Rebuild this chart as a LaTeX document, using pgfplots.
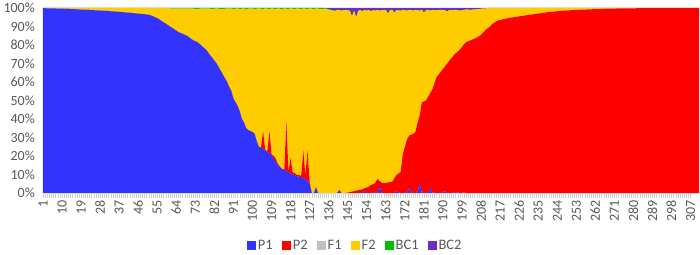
\documentclass[border=0pt]{standalone}
\usepackage{pgfplots}
\pgfplotsset{compat=1.18}
\usepackage{pgfplotstable}
\usepackage{fontspec}
\setmainfont{Carlito}
\definecolor{cP1}{HTML}{3333FF}
\definecolor{cP2}{HTML}{FF0000}
\definecolor{cF1}{HTML}{C0C0C0}
\definecolor{cF2}{HTML}{FFCC00}
\definecolor{cBC1}{HTML}{00C000}
\definecolor{cBC2}{HTML}{6A2FC0}
\definecolor{txt}{HTML}{595959}
\pgfplotstableread{
x P1 P2 F1 F2 BC1 BC2
1 99.9 0 0 0.1 0 0
5 99.8 0 0 0.2 0 0
10 99.6 0 0 0.4 0 0
15 99.4 0 0 0.6 0 0
20 99.1 0 0 0.9 0 0
25 98.8 0 0 1.2 0 0
30 98.5 0 0 1.5 0 0
36 98.0 0 0 2.0 0 0
40 97.6 0 0 2.4 0 0
46 97.0 0 0 3.0 0 0
50 96.5 0 0 3.5 0 0
52 96.0 0 0 4.0 0 0
55 94.5 0 0 5.5 0 0
57 93.0 0 0 7.0 0 0
59 91.5 0 0 8.5 0 0
61 90.0 0 0 9.7 0.3 0
63 88.5 0 0 11.2 0.3 0
65 87.0 0 0 12.6 0.4 0
67 86.0 0 0 13.7 0.3 0
69 85.0 0 0 14.6 0.4 0
70 84.2 0 0 15.5 0.3 0
72 82.5 0 0 17.1 0.4 0
74 81.5 0 0 18.0 0.5 0
76 79.5 0 0 20.2 0.3 0
78 77.5 0 0 22.1 0.4 0
79 76.0 0 0 23.7 0.3 0
81 73.0 0 0 26.5 0.5 0
83 70.0 0 0 29.7 0.3 0
84 68.0 0 0 31.6 0.4 0
86 64.0 0 0 35.5 0.5 0
88 60.0 0 0 39.7 0.3 0
89 57.0 0.5 0 42.1 0.4 0
90 55.0 0.3 0 44.4 0.3 0
91 51.0 0 0 48.5 0.5 0
92 49.0 0 0 50.6 0.4 0
93 47.0 0 0 52.7 0.3 0
94 44.0 0 0 55.5 0.5 0
95 40.0 0 0 59.6 0.4 0
96 38.0 0 0 61.7 0.3 0
97 35.0 0 0 64.5 0.5 0
98 34.0 0 0 65.6 0.4 0
100 33.0 0 0 66.7 0.3 0
101 32.0 0 0 67.5 0.5 0
102 28.0 0 0 71.6 0.4 0
103 25.0 0 0 74.7 0.3 0
104 24.5 0 0 75.1 0.4 0
105 24.0 9.5 0 66.0 0.5 0
106 23.0 0.5 0 76.2 0.3 0
107 22.2 0.3 0 77.1 0.4 0
108 21.5 12.0 0 66.0 0.5 0
109 20.5 0.5 0 78.7 0.3 0
110 18.5 1.5 0 79.6 0.4 0
111 17.0 1.5 0 81.0 0.5 0
112 15.0 0.8 0 83.9 0.3 0
113 14.0 0.3 0 85.3 0.4 0
114 13.0 0 0 86.5 0.5 0
115 12.5 0.3 0 86.9 0.3 0
116 12.0 26.5 0 61.1 0.4 0
117 11.0 0.5 0 88.0 0.5 0
118 10.5 8.5 0 80.7 0.3 0
119 10.2 1.0 0 88.4 0.4 0
120 9.7 1.0 0 88.8 0.5 0
121 9.0 0.8 0 89.9 0.3 0
122 8.8 0.8 0 90.0 0.4 0
123 8.6 0.8 0 90.1 0.5 0
124 8.0 15.0 0 76.7 0.3 0
125 7.5 2.0 0 90.1 0.4 0
126 6.5 16.5 0 76.5 0.5 0
127 5.0 1.0 0 93.7 0.3 0
128 0 0 0 99.6 0.4 0
129 0 0 0 99.5 0.5 0
130 3.0 0 0 96.7 0.3 0
131 0 0 0 99.6 0.4 0
133 0 0 0 99.5 0.5 0
135 0 0 0 99.4 0.3 0.3
137 0 0 0 98.8 0.2 1.0
139 0 0 0 98.3 0.2 1.5
140 0 0 0 99.0 0 1.0
141 1.5 0 0 97.3 0 1.2
142 0 0 0 98.5 0 1.5
144 0 0 0 99.0 0 1.0
146 0 0.5 0 98.0 0 1.5
147 0 0.7 0 94.8 0 4.5
148 0 1.0 0 97.5 0 1.5
149 0 1.3 0 93.7 0 5.0
150 0 1.6 0 96.9 0 1.5
151 0 1.8 0 97.0 0 1.2
152 0 2.0 0 96.2 0 1.8
153 1.5 1.2 0 96.3 0 1.0
154 0 3.0 0 95.5 0 1.5
155 0 3.5 0 95.5 0 1.0
156 0 4.3 0 93.9 0 1.8
157 0.5 4.3 0 94.0 0 1.2
158 0 5.5 0 93.0 0 1.5
159 0 7.5 0 91.5 0 1.0
160 4.0 2.5 0 92.0 0 1.5
161 0 5.4 0 93.4 0 1.2
163 0 5.5 0 93.5 0 1.0
164 0 5.7 0 91.3 0 3.0
165 0 6.0 0 92.8 0 1.2
166 0 6.0 0 93.0 0 1.0
167 0 8.0 0 89.5 0 2.5
168 1.0 8.7 0 89.1 0 1.2
170 0 11.4 0 87.1 0 1.5
171 0 21.0 0 78.0 0 1.0
172 0 25.0 0 73.8 0 1.2
173 0.5 28.5 0 69.5 0 1.5
174 2.5 28.5 0 68.0 0 1.0
175 0.3 31.2 0 67.3 0 1.2
176 0 32.0 0 66.5 0 1.5
177 0 33.0 0 66.0 0 1.0
178 0.5 37.5 0 60.8 0 1.2
179 5.0 37.0 0 56.5 0 1.5
180 0.3 48.7 0 50.0 0 1.0
181 0 49.5 0 48.0 0 2.5
182 0 50.0 0 48.8 0 1.2
183 0.5 51.5 0 47.0 0 1.0
184 2.5 51.5 0 44.5 0 1.5
185 0.3 55.7 0 43.0 0 1.0
187 0 62.7 0 36.1 0 1.2
189 0 65.5 0 33.5 0 1.0
191 1.0 67.5 0 30.3 0 1.2
192 0 70.0 0 28.0 0 2.0
193 0 71.5 0 27.5 0 1.0
194 0 73.0 0 25.8 0 1.2
196 0.5 75.0 0 23.5 0 1.0
198 0 77.5 0 21.0 0 1.5
200 0.3 80.2 0 18.5 0 1.0
201 0 81.6 0 17.6 0 0.8
203 0 82.5 0 16.5 0 1.0
206 0 84.0 0 15.3 0 0.7
208 0 85.5 0 14.1 0 0.4
210 0 88.0 0 11.7 0 0.3
212 0 89.8 0 10.2 0 0
214 0 92.0 0 8.0 0 0
216 0 93.2 0 6.8 0 0
218 0 93.8 0 6.2 0 0
221 0 94.6 0 5.4 0 0
225 0 95.3 0 4.7 0 0
229 0 96.0 0 4.0 0 0
235 0 97.0 0 3.0 0 0
240 0 97.8 0 2.2 0 0
245 0 98.4 0 1.6 0 0
252 0 98.9 0 1.1 0 0
260 0 99.3 0 0.7 0 0
267 0 99.6 0 0.4 0 0
275 0 99.8 0 0.2 0 0
285 0 99.9 0 0.1 0 0
311 0 99.95 0 0.05 0 0
}\datatable
\begin{document}
\begin{tikzpicture}
\begin{axis}[
  scale only axis,
  width=656pt, height=185pt,
  xmin=1, xmax=311, ymin=0, ymax=100,
  stack plots=y,
  area style,
  separate axis lines,
  axis x line*=bottom,
  axis y line*=left,
  x axis line style={draw=black!15, -},
  y axis line style={draw=none, -},
  xtick={1,10,...,307},
  minor x tick num=8,
  tick align=outside,
  major tick length=5pt, minor tick length=5pt,
  x tick style={draw=black!18, line width=0.4pt},
  minor x tick style={draw=black!18, line width=0.4pt},
  ytick={0,10,...,100},
  y tick style={draw=none},
  yticklabel={\pgfmathparse{int(\tick)}\pgfmathresult\%},
  xticklabel={\pgfmathparse{int(\tick)}\pgfmathresult},
  ticklabel style={font=\fontsize{14}{16}\selectfont, text=txt},
  xticklabel style={rotate=90, anchor=east, inner sep=2pt},
  yticklabel style={inner sep=3pt},
  legend columns=6,
  legend style={draw=none, at={(0.476,-0.286)}, anchor=center,
    font=\fontsize{14.5}{16}\selectfont, text=txt,
    /tikz/every even column/.append style={column sep=7pt}},
  legend image code/.code={\fill[#1] (0pt,-4pt) rectangle (9pt,5pt);},
]
\addplot[fill=cP1, draw=none] table[x=x, y=P1] {\datatable} \closedcycle;
\addplot[fill=cP2, draw=none] table[x=x, y=P2] {\datatable} \closedcycle;
\addplot[fill=cF1, draw=none] table[x=x, y=F1] {\datatable} \closedcycle;
\addplot[fill=cF2, draw=none] table[x=x, y=F2] {\datatable} \closedcycle;
\addplot[fill=cBC1, draw=none] table[x=x, y=BC1] {\datatable} \closedcycle;
\addplot[fill=cBC2, draw=none] table[x=x, y=BC2] {\datatable} \closedcycle;
\legend{P1, P2, F1, F2, BC1, BC2}
\end{axis}
\pgfresetboundingbox
\path[use as bounding box] (-43pt,-61pt) rectangle (657pt,193pt);
\end{tikzpicture}
\end{document}
